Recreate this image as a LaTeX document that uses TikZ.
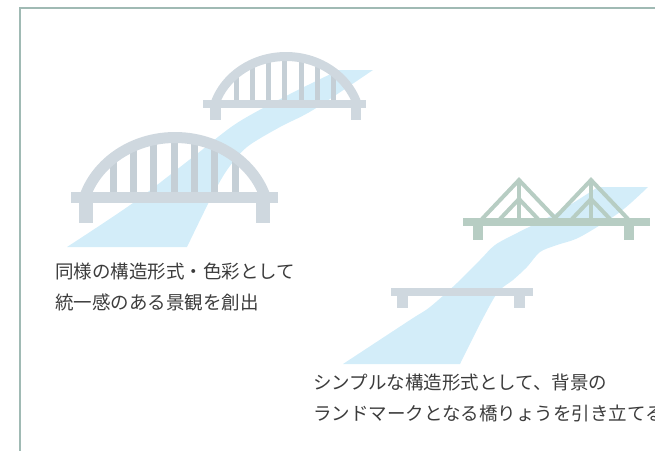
\documentclass[tikz,border=0pt]{standalone}
\usepackage{fontspec}
\newfontfamily\jpfont{Noto Sans CJK JP}
\usepackage{tikz}
\usetikzlibrary{positioning}
\usepackage{xcolor}

\definecolor{riverblue}{HTML}{D3EDF9}
\definecolor{bridgegray}{HTML}{CFD8DF}
\definecolor{hangergray}{HTML}{C5CFD6}
\definecolor{trussgreen}{HTML}{B7CDC3}
\definecolor{framegreen}{HTML}{A0BAB4}
\definecolor{textgray}{HTML}{3C3C3C}

\begin{document}
\begin{tikzpicture}[x=1pt, y=-1pt,
  river/.style={fill=riverblue},
  deck/.style={fill=bridgegray},
  note/.style={anchor=west, align=left, inner sep=0pt, text=textgray,
    font=\jpfont\fontsize{18.5}{31.5}\selectfont}]
  \useasboundingbox (0,0) rectangle (655,450);
  \draw[framegreen, line width=2pt] (656,8) -- (20,8) -- (20,451);

  % rivers
  \fill[river] (339,70) -- (373,70)
    -- plot[smooth, tension=0.5] coordinates {(373,70) (313,110) (280,127) (247,147) (227,170) (210,200) (187,247)}
    -- (67,247)
    -- plot[smooth, tension=0.5] coordinates {(67,247) (133,203) (193,157) (237,123) (290,94) (339,70)}
    -- cycle;
  \fill[river] (598,187) -- (648,187)
    -- plot[smooth, tension=0.5] coordinates {(648,187) (620,212) (580,237) (557,245) (540,252) (527,267) (513,280) (498,292) (482,320) (460,364)}
    -- (343,364)
    -- plot[smooth, tension=0.5] coordinates {(343,364) (410,320) (430,307) (457,283) (480,260) (495,245) (517,233) (553,215) (573,203) (598,187)}
    -- cycle;

  % arch bridge, far
  \begin{scope}
    \clip (286,124) ellipse (71pt and 64pt);
    \foreach \x in {236,252,268,284,301,317,333}
      \fill[hangergray] (\x-2.5,100) rectangle (\x+2.5,40);
  \end{scope}
  \begin{scope}
    \clip (190,30) rectangle (380,100);
    \draw[bridgegray, line width=9pt] (286,124) ellipse (74.5pt and 67.5pt);
  \end{scope}
  \fill[deck] (203,100) rectangle (366,108);
  \fill[deck] (210,108) rectangle (221,120);
  \fill[deck] (351,108) rectangle (361,120);

  % arch bridge, near
  \begin{scope}
    \clip (175,222) ellipse (90pt and 80pt);
    \foreach \x in {113,133,153,174,194,214,235}
      \fill[hangergray] (\x-3.5,192) rectangle (\x+3.5,100);
  \end{scope}
  \begin{scope}
    \clip (60,100) rectangle (290,192);
    \draw[bridgegray, line width=11pt] (175,222) ellipse (94.5pt and 84.5pt);
  \end{scope}
  \fill[deck] (71,192) rectangle (278,203);
  \fill[deck] (79,203) rectangle (93,223);
  \fill[deck] (256,203) rectangle (270,223);

  % truss bridge
  \foreach \p in {519,591} {
    \draw[trussgreen, line width=4pt] (\p-37,219) -- (\p,180) -- (\p+37,219);
    \draw[trussgreen, line width=4pt] (\p-19,219) -- (\p,199) -- (\p+19,219);
    \draw[trussgreen, line width=4pt] (\p,180) -- (\p,219);
  }
  \fill[trussgreen] (463,218) rectangle (650,226);
  \fill[trussgreen] (473,226) rectangle (483,240);
  \fill[trussgreen] (624,226) rectangle (634,240);

  % girder bridge
  \fill[deck] (391,288) rectangle (533,296);
  \fill[deck] (397,296) rectangle (408,308);
  \fill[deck] (514,296) rectangle (525,308);

  \node[note] (archnote) at (55,287) {同様の構造形式・色彩として\\統一感のある景観を創出};
  \node[note] (girdernote) at (313,398) {シンプルな構造形式として、背景の\\ランドマークとなる橋りょうを引き立てる};
\end{tikzpicture}
\end{document}
